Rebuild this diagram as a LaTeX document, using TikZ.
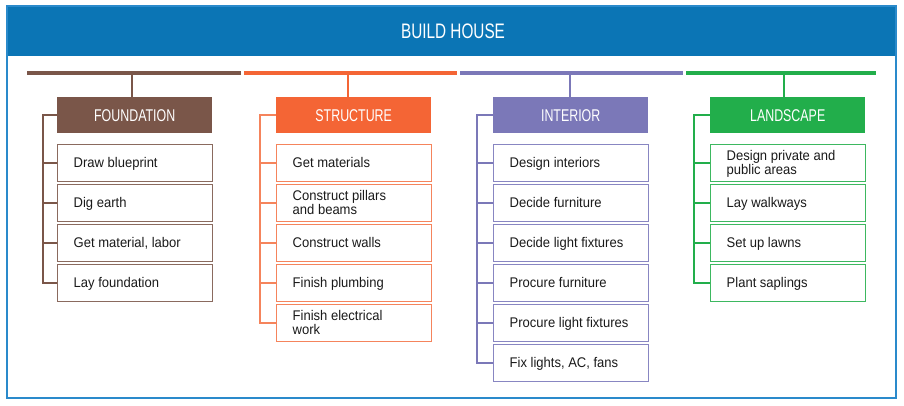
\documentclass[tikz,border=0pt]{standalone}
\usepackage{fontspec}
\setmainfont{Liberation Sans}
\newfontfamily\condfont[FakeStretch=0.73]{Liberation Sans}
\newfontfamily\taskfont[FakeStretch=0.93]{Liberation Sans}
\usetikzlibrary{calc}

\definecolor{hdrblue}{HTML}{0B75B5}
\definecolor{framebl}{HTML}{2A8ACB}
\definecolor{cbrown}{HTML}{7A5649}
\definecolor{corange}{HTML}{F46535}
\definecolor{cpurple}{HTML}{7B78B8}
\definecolor{cgreen}{HTML}{22AE4B}
\definecolor{lbrown}{HTML}{8A6A5E}
\definecolor{lorange}{HTML}{F5845C}
\definecolor{lpurple}{HTML}{8886C2}
\definecolor{lgreen}{HTML}{3DB860}
\definecolor{ink}{HTML}{1A1A1A}

\tikzset{
  bar/.style={line width=4pt},
  headbox/.style={anchor=north west, minimum width=155pt, minimum height=36pt,
    inner sep=0pt, text height=12pt, text depth=0pt, text=white,
    font=\fontsize{17}{18}\selectfont\condfont},
  taskbox/.style={anchor=north west, fill=white, line width=1.3pt,
    minimum width=154.5pt, minimum height=37pt, inner sep=0pt},
  tasktext/.style={anchor=base west, inner sep=0pt, text=ink,
    font=\fontsize{14}{14}\selectfont\taskfont},
  link/.style={line width=1.4pt},
}

% one task box with its left-aligned text; #6 = baseline offset below the box centre
\newcommand\taskbox[6]{%
  \node[taskbox, draw=#4] (#1) at (#2,#3) {};
  \node[tasktext] (#1t) at ($(#1.west)+(16.5,#6)$) {#5};
}
\newcommand\twoline[2]{\begin{tabular}[t]{@{}l@{}}#1\\#2\end{tabular}}

\begin{document}
\begin{tikzpicture}[x=1pt,y=-1pt]
\useasboundingbox (0,0) rectangle (904,406);

% frame and title band
\fill[white] (7,6) rectangle (896,398);
\fill[hdrblue] (7,6) rectangle (896,56);
\draw[framebl, line width=1.4pt] (7,6) rectangle (896,398);
\node[text=white, text height=15pt, text depth=0pt, inner sep=0pt,
      font=\fontsize{21}{24}\selectfont\condfont] (title) at (453,31) {BUILD HOUSE};

% coloured bars, with the drop point of each column
\coordinate (fbL) at (27,73);  \coordinate (fbR) at (241,73); \coordinate (fbM) at (132,73);
\coordinate (sbL) at (244,73); \coordinate (sbR) at (457,73); \coordinate (sbM) at (348,73);
\coordinate (ibL) at (460,73); \coordinate (ibR) at (683,73); \coordinate (ibM) at (570,73);
\coordinate (lbL) at (686,73); \coordinate (lbR) at (876,73); \coordinate (lbM) at (784,73);
\draw[bar, cbrown]  (fbL) -- (fbR);
\draw[bar, corange] (sbL) -- (sbR);
\draw[bar, cpurple] (ibL) -- (ibR);
\draw[bar, cgreen]  (lbL) -- (lbR);

% column heads
\node[headbox, fill=cbrown]  (fh) at (57,97)  {FOUNDATION};
\node[headbox, fill=corange] (sh) at (276,97) {STRUCTURE};
\node[headbox, fill=cpurple] (ih) at (493,97) {INTERIOR};
\node[headbox, fill=cgreen]  (lh) at (710,97) {LANDSCAPE};

\draw[link, cbrown]  (fbM) -- (fbM |- fh.north);
\draw[link, corange] (sbM) -- (sbM |- sh.north);
\draw[link, cpurple] (ibM) -- (ibM |- ih.north);
\draw[link, cgreen]  (lbM) -- (lbM |- lh.north);

% FOUNDATION tasks
\taskbox{f1}{57}{144}{lbrown}{Draw blueprint}{4.5}
\taskbox{f2}{57}{184}{lbrown}{Dig earth}{4.5}
\taskbox{f3}{57}{224}{lbrown}{Get material, labor}{4.5}
\taskbox{f4}{57}{264}{lbrown}{Lay foundation}{4.5}

% STRUCTURE tasks
\taskbox{s1}{276}{144}{lorange}{Get materials}{4.5}
\taskbox{s2}{276}{184}{lorange}{\twoline{Construct pillars}{and beams}}{-2.5}
\taskbox{s3}{276}{224}{lorange}{Construct walls}{4.5}
\taskbox{s4}{276}{264}{lorange}{Finish plumbing}{4.5}
\taskbox{s5}{276}{304}{lorange}{\twoline{Finish electrical}{work}}{-2.5}

% INTERIOR tasks
\taskbox{i1}{493}{144}{lpurple}{Design interiors}{4.5}
\taskbox{i2}{493}{184}{lpurple}{Decide furniture}{4.5}
\taskbox{i3}{493}{224}{lpurple}{Decide light fixtures}{4.5}
\taskbox{i4}{493}{264}{lpurple}{Procure furniture}{4.5}
\taskbox{i5}{493}{304}{lpurple}{Procure light fixtures}{4.5}
\taskbox{i6}{493}{344}{lpurple}{Fix lights, AC, fans}{4.5}

% LANDSCAPE tasks
\taskbox{l1}{710}{144}{lgreen}{\twoline{Design private and}{public areas}}{-2.5}
\taskbox{l2}{710}{184}{lgreen}{Lay walkways}{4.5}
\taskbox{l3}{710}{224}{lgreen}{Set up lawns}{4.5}
\taskbox{l4}{710}{264}{lgreen}{Plant saplings}{4.5}

% left-hand spines
\coordinate (fs) at (43,0);
\coordinate (ss) at (260,0);
\coordinate (is) at (477,0);
\coordinate (ls) at (694,0);

\draw[link, cbrown] (fh.west) -- (fh.west -| fs) |- (f4.west);
\foreach \b in {f1,f2,f3} \draw[link, cbrown] (fs |- \b.west) -- (\b.west);

\draw[link, lorange] (sh.west) -- (sh.west -| ss) |- (s5.west);
\foreach \b in {s1,s2,s3,s4} \draw[link, lorange] (ss |- \b.west) -- (\b.west);

\draw[link, cpurple] (ih.west) -- (ih.west -| is) |- (i6.west);
\foreach \b in {i1,i2,i3,i4,i5} \draw[link, cpurple] (is |- \b.west) -- (\b.west);

\draw[link, cgreen] (lh.west) -- (lh.west -| ls) |- (l4.west);
\foreach \b in {l1,l2,l3} \draw[link, cgreen] (ls |- \b.west) -- (\b.west);
\end{tikzpicture}
\end{document}
